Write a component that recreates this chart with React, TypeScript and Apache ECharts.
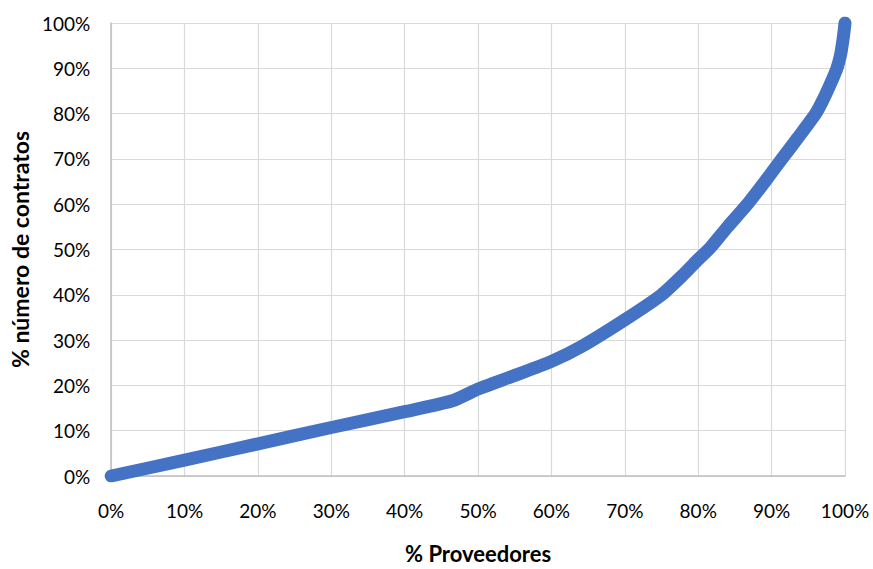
import React, { useEffect, useRef } from "react";
import * as echarts from "echarts";

const proveedores = [0, 10, 20, 30, 40, 46.5, 50, 55, 60, 64, 70, 75, 78, 80, 81.7, 84, 86.7, 89, 91.4, 93.5, 96, 97, 98, 98.9, 99.4, 99.7, 99.9, 100];
const contratos = [0, 3.5, 7.1, 10.7, 14.2, 16.6, 19.2, 22.2, 25.3, 28.5, 34.5, 40, 44.5, 47.8, 50.5, 55, 60, 64.8, 70, 74.5, 80, 83, 86.5, 90, 93, 96, 98.5, 100];
const tickLabelSuffix = "%";
const xTitle = "% Proveedores";
const yTitle = "% número de contratos";

export default function App() {
  const ref = useRef<HTMLDivElement>(null);
  useEffect(() => {
    const chart = echarts.init(ref.current!, null, { renderer: "svg" });
    const font = "Lato, 'Open Sans', sans-serif";
    chart.setOption({
      animation: false,
      backgroundColor: "#ffffff",
      grid: { left: 109, right: 28, top: 23, bottom: 87, containLabel: false },
      xAxis: {
        type: "value",
        min: 0,
        max: 100,
        interval: 10,
        name: xTitle,
        nameLocation: "middle",
        nameGap: 66,
        nameTextStyle: { fontFamily: font, fontSize: 22, fontWeight: "bold", color: "#000" },
        axisLine: { show: true, lineStyle: { color: "#bfbfbf", width: 1.5 } },
        axisTick: { show: false },
        axisLabel: { formatter: "{value}" + tickLabelSuffix, fontFamily: font, fontSize: 19, color: "#000", margin: 25 },
        splitLine: { show: true, lineStyle: { color: "#d9d9d9", width: 1.2 } },
      },
      yAxis: {
        type: "value",
        min: 0,
        max: 100,
        interval: 10,
        name: yTitle,
        nameLocation: "middle",
        nameRotate: 90,
        nameGap: 76,
        nameTextStyle: { fontFamily: font, fontSize: 23, fontWeight: "bold", color: "#000" },
        axisLine: { show: true, lineStyle: { color: "#bfbfbf", width: 1.5 } },
        axisTick: { show: false },
        axisLabel: { formatter: "{value}" + tickLabelSuffix, fontFamily: font, fontSize: 19, color: "#000", margin: 21 },
        splitLine: { show: true, lineStyle: { color: "#d9d9d9", width: 1.2 } },
      },
      series: [
        {
          type: "line",
          data: proveedores.map((x, i) => [x, contratos[i]]),
          showSymbol: false,
          symbol: "none",
          smooth: 0.2,
          lineStyle: { color: "#4472c4", width: 13, cap: "round", join: "round" },
        },
      ],
    });
    return () => chart.dispose();
  }, []);
  return <div ref={ref} style={{ position: "fixed", left: 0, top: 0, width: 873, height: 569 }} />;
}
